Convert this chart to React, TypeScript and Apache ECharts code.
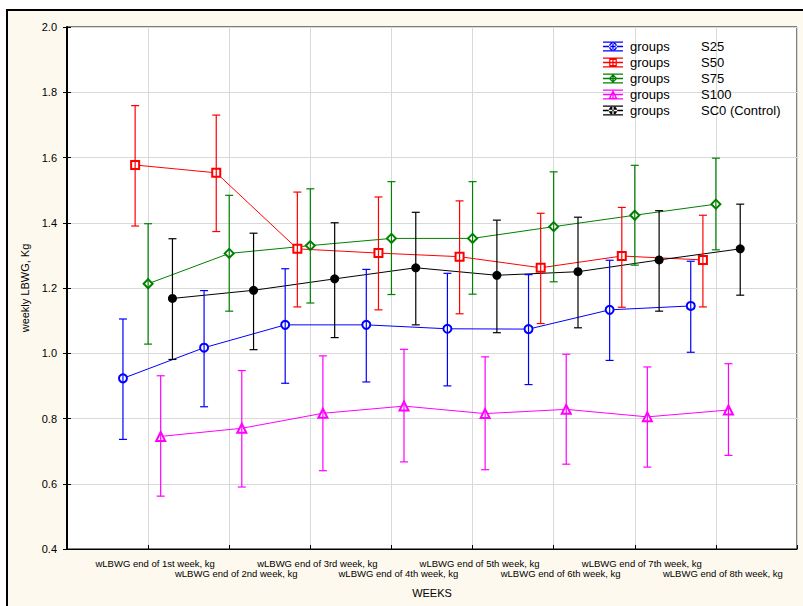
import React, { useEffect, useRef } from "react";
import * as echarts from "echarts";

const weekLabels = [
  "wLBWG end of 1st week, kg",
  "wLBWG end of 2nd week, kg",
  "wLBWG end of 3rd week, kg",
  "wLBWG end of 4th week, kg",
  "wLBWG end of 5th week, kg",
  "wLBWG end of 6th week, kg",
  "wLBWG end of 7th week, kg",
  "wLBWG end of 8th week, kg",
];
const yTicks = [0.4, 0.6, 0.8, 1.0, 1.2, 1.4, 1.6, 1.8, 2.0];

const groupNames = ["S25", "S50", "S75", "S100", "SC0 (Control)"];

const s25Mean = [0.923, 1.017, 1.087, 1.087, 1.075, 1.074, 1.133, 1.145];
const s25Low = [0.736, 0.836, 0.908, 0.912, 0.9, 0.904, 0.978, 1.003];
const s25High = [1.105, 1.192, 1.259, 1.257, 1.245, 1.241, 1.285, 1.282];

const s50Mean = [1.577, 1.553, 1.32, 1.307, 1.296, 1.262, 1.298, 1.286];
const s50Low = [1.39, 1.373, 1.142, 1.133, 1.121, 1.091, 1.141, 1.142];
const s50High = [1.759, 1.73, 1.494, 1.479, 1.467, 1.429, 1.447, 1.423];

const s75Mean = [1.213, 1.306, 1.33, 1.352, 1.352, 1.388, 1.423, 1.457];
const s75Low = [1.028, 1.129, 1.154, 1.18, 1.181, 1.219, 1.27, 1.317];
const s75High = [1.397, 1.484, 1.504, 1.526, 1.526, 1.556, 1.576, 1.598];

const s100Mean = [0.745, 0.77, 0.816, 0.838, 0.815, 0.828, 0.805, 0.826];
const s100Low = [0.562, 0.59, 0.64, 0.667, 0.643, 0.66, 0.651, 0.687];
const s100High = [0.931, 0.947, 0.992, 1.012, 0.989, 0.997, 0.958, 0.968];

const sc0Mean = [1.168, 1.193, 1.228, 1.262, 1.239, 1.25, 1.286, 1.32];
const sc0Low = [0.981, 1.011, 1.048, 1.087, 1.063, 1.078, 1.129, 1.178];
const sc0High = [1.351, 1.368, 1.4, 1.432, 1.408, 1.417, 1.437, 1.457];

const FONT = "'Liberation Sans', Arial, sans-serif";

const bars = "M0 0H20V1.3H0Z M0 4.35H20V5.65H0Z M0 8.7H20V10H0Z M9.35 0H10.65V10H9.35Z ";
const icons = [
  "path://" + bars + "M14 5A4 4 0 1 0 6 5A4 4 0 1 0 14 5Z M12.7 5A2.7 2.7 0 1 1 7.3 5A2.7 2.7 0 1 1 12.7 5Z",
  "path://" + bars + "M6.2 1.2H13.8V8.8H6.2Z M7.4 2.4V7.6H12.6V2.4Z",
  "path://" + bars + "M10 0.6L14.4 5L10 9.4L5.6 5Z M10 2.3L7.3 5L10 7.7L12.7 5Z",
  "path://" + bars + "M10 0.4L14.6 9.6L5.4 9.6Z M10 3.2L7.6 8.3L12.4 8.3Z",
  "path://" + bars + "M14.2 5A4.2 4.2 0 1 0 5.8 5A4.2 4.2 0 1 0 14.2 5Z",
];

const App: React.FC = () => {
  const ref = useRef<HTMLDivElement>(null);

  useEffect(() => {
    if (!ref.current) return;
    const chart = echarts.init(ref.current, undefined, { renderer: "svg" });

    const groups = [
      { name: groupNames[0], mean: s25Mean, low: s25Low, high: s25High, color: "#0000ff", offset: -0.31, symbol: "emptyCircle", size: 8, bw: 1.3 },
      { name: groupNames[1], mean: s50Mean, low: s50Low, high: s50High, color: "#ff0000", offset: -0.16, symbol: "emptyRect", size: 8, bw: 1.3 },
      { name: groupNames[2], mean: s75Mean, low: s75Low, high: s75High, color: "#008000", offset: 0, symbol: "emptyDiamond", size: 9, bw: 1.3 },
      { name: groupNames[3], mean: s100Mean, low: s100Low, high: s100High, color: "#ff00ff", offset: 0.155, symbol: "emptyTriangle", size: 9, bw: 2 },
      { name: groupNames[4], mean: sc0Mean, low: sc0Low, high: sc0High, color: "#000000", offset: 0.3, symbol: "circle", size: 9, bw: 0 },
    ];

    const lineSeries = groups.map((g) => ({
      type: "line",
      name: g.name,
      xAxisIndex: 0,
      yAxisIndex: 0,
      data: g.mean.map((v, i) => [i + 1 + g.offset, v]),
      symbol: g.symbol,
      symbolSize: g.size,
      showAllSymbol: true,
      lineStyle: { color: g.color, width: 1 },
      itemStyle: { color: g.color, borderColor: g.color, borderWidth: g.bw },
      z: 2,
    }));

    const errSeries = groups.map((g) => ({
      type: "custom",
      name: g.name,
      xAxisIndex: 0,
      yAxisIndex: 0,
      data: g.mean.map((_, i) => [i + 1 + g.offset, g.low[i], g.high[i]]),
      encode: { x: 0, y: [1, 2] },
      z: 3,
      renderItem: (params: any, api: any) => {
        const x = api.value(0);
        const lo = api.coord([x, api.value(1)]);
        const hi = api.coord([x, api.value(2)]);
        const w = 4;
        const st = { stroke: g.color, lineWidth: 1.2 };
        return {
          type: "group",
          children: [
            { type: "line", shape: { x1: hi[0], y1: hi[1], x2: lo[0], y2: lo[1] }, style: st },
            { type: "line", shape: { x1: hi[0] - w, y1: hi[1], x2: hi[0] + w, y2: hi[1] }, style: st },
            { type: "line", shape: { x1: lo[0] - w, y1: lo[1], x2: lo[0] + w, y2: lo[1] }, style: st },
          ],
        };
      },
    }));

    const labelFor = (v: number, odd: boolean) => {
      const i = Math.round(v) - 1;
      if (i < 0 || i >= weekLabels.length) return "";
      return (i % 2 === 0) === odd ? weekLabels[i] : "";
    };

    const labelStyle = {
      color: "#000",
      fontFamily: FONT,
      fontSize: 9.5,
      padding: [0, 0, 0, 14],
    };

    const option: any = {
      animation: false,
      backgroundColor: "#ffffff",
      graphic: {
        elements: [
          {
            type: "rect",
            z: -10,
            silent: true,
            shape: { x: 7, y: 10, width: 900, height: 700 },
            style: { fill: "#fdf9ee", stroke: "#000", lineWidth: 2 },
          },
        ],
      },
      grid: {
        left: 67,
        top: 27,
        right: 6,
        bottom: 57,
        show: true,
        backgroundColor: "#ffffff",
        borderColor: "#000",
        borderWidth: 1,
      },
      legend: {
        orient: "vertical",
        left: 603,
        top: 40,
        itemWidth: 20,
        itemHeight: 10,
        itemGap: 3,
        padding: 0,
        itemStyle: { borderWidth: 0 },
        data: groups.map((g, i) => ({ name: g.name, icon: icons[i] })),
        formatter: (name: string) => `{a|groups}{b|${name}}`,
        textStyle: {
          fontFamily: FONT,
          fontSize: 13,
          color: "#000",
          lineHeight: 10,
          padding: [0, 0, 0, 2],
          rich: {
            a: { width: 71, fontFamily: FONT, fontSize: 13, color: "#000", lineHeight: 10 },
            b: { fontFamily: FONT, fontSize: 13, color: "#000", lineHeight: 10 },
          },
        },
      },
      xAxis: [
        {
          type: "value",
          min: 0,
          max: weekLabels.length + 1,
          interval: 1,
          name: "WEEKS",
          nameLocation: "middle",
          nameGap: 38,
          nameTextStyle: { fontFamily: FONT, fontSize: 11, color: "#000" },
          axisLine: { show: true, onZero: false, lineStyle: { color: "#000", width: 1 } },
          axisTick: { show: true, inside: true, length: 4, lineStyle: { color: "#000" } },
          splitLine: { show: true, lineStyle: { color: "#d9d9d9", width: 1 } },
          axisLabel: { ...labelStyle, margin: 9, formatter: (v: number) => labelFor(v, true) },
        },
        {
          type: "value",
          position: "bottom",
          min: 0,
          max: weekLabels.length + 1,
          interval: 1,
          axisLine: { show: false },
          axisTick: { show: false },
          splitLine: { show: false },
          axisLabel: { ...labelStyle, margin: 19, formatter: (v: number) => labelFor(v, false) },
        },
      ],
      yAxis: [
        {
          type: "value",
          min: yTicks[0],
          max: yTicks[yTicks.length - 1],
          interval: 0.2,
          name: "weekly LBWG, Kg",
          nameLocation: "middle",
          nameGap: 22,
          nameTextStyle: { fontFamily: FONT, fontSize: 11, color: "#000" },
          axisLine: { show: true, lineStyle: { color: "#000", width: 1 } },
          axisTick: { show: true, inside: true, length: 4, lineStyle: { color: "#000" } },
          splitLine: { show: true, lineStyle: { color: "#d9d9d9", width: 1 } },
          axisLabel: {
            margin: 10,
            fontFamily: FONT,
            fontSize: 11,
            color: "#000",
            formatter: (v: number) => v.toFixed(1),
          },
        },
        {
          type: "value",
          position: "right",
          min: yTicks[0],
          max: yTicks[yTicks.length - 1],
          interval: 0.2,
          axisLine: { show: true, lineStyle: { color: "#000", width: 2 } },
          axisTick: { show: true, inside: true, length: 4, lineStyle: { color: "#000" } },
          splitLine: { show: false },
          axisLabel: { show: false },
        },
      ],
      series: [...lineSeries, ...errSeries],
    };

    chart.setOption(option);
    return () => chart.dispose();
  }, []);

  return (
    <div
      ref={ref}
      style={{ position: "absolute", left: 0, top: 0, width: 803, height: 606 }}
    />
  );
};

export default App;
